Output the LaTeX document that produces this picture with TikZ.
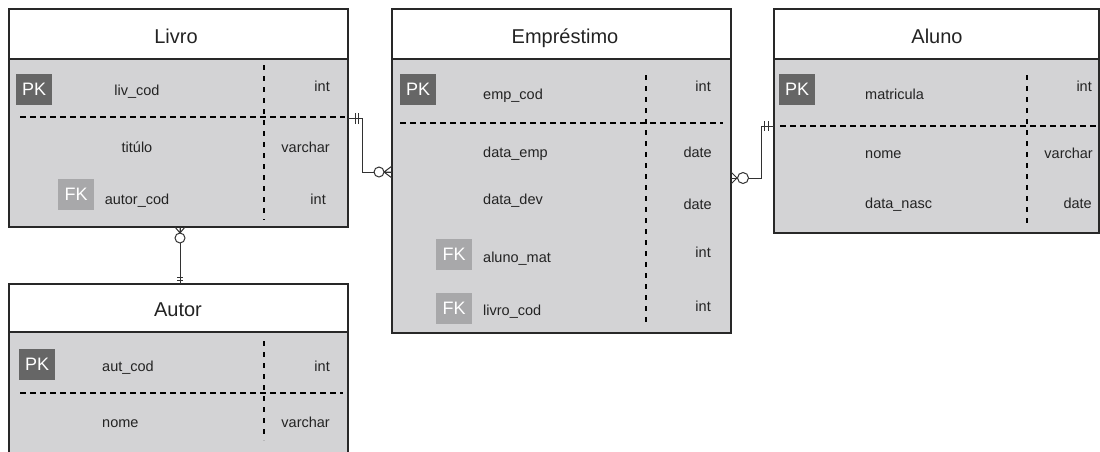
\documentclass[tikz,border=0pt]{standalone}
\usepackage{fontspec}
\setmainfont{Liberation Sans}
\definecolor{bodyc}{RGB}{211,211,213}
\definecolor{pkc}{RGB}{102,102,102}
\definecolor{fkc}{RGB}{168,168,170}
\definecolor{bordc}{RGB}{40,40,40}
\definecolor{txtc}{RGB}{35,35,35}
\definecolor{connc}{RGB}{50,50,50}
\begin{document}
\begin{tikzpicture}[x=1pt,y=-1pt,
  ent/.style={draw=bordc, line width=2pt, fill=bodyc, anchor=north west, inner sep=0, outer sep=0},
  head/.style={draw=bordc, line width=2pt, fill=white, anchor=north west, inner sep=0, outer sep=0},
  ttl/.style={font=\fontsize{20}{24}\selectfont, text=txtc, anchor=base, inner sep=0},
  fld/.style={font=\fontsize{14.5}{17}\selectfont, text=txtc, inner sep=0},
  pk/.style={fill=pkc, text=white, font=\fontsize{18}{20}\selectfont, minimum width=36pt, minimum height=31pt, anchor=north west, inner sep=0},
  fk/.style={pk, fill=fkc},
  dh/.style={line width=1.5pt, dash pattern=on 6pt off 4pt, draw=black},
  dv/.style={line width=1.5pt, dash pattern=on 5pt off 6pt, draw=black},
  conn/.style={draw=connc, line width=1pt},
  mk/.style={draw=connc, line width=1pt},
]
\useasboundingbox (0,0) rectangle (1100,451);
\clip (0,0) rectangle (1100,451);

% ---------- Livro ----------
\node[ent, minimum width=339pt, minimum height=218pt] (livro) at (9,9) {};
\node[head, minimum width=339pt, minimum height=50pt] (livroH) at (9,9) {};
\node[ttl] (livroT) at (176,43) {Livro};
\node[pk] (lvpk) at (16,74) {PK};
\node[fk] (lvfk) at (58,179) {FK};
\node[fld,anchor=base] (lv1) at (137,95) {liv\_cod};
\node[fld,anchor=base east] (lv1t) at (330,91) {int};
\node[fld,anchor=base] (lv2) at (137,152) {titúlo};
\node[fld,anchor=base east] (lv2t) at (330,152) {varchar};
\node[fld,anchor=base] (lv3) at (137,204) {autor\_cod};
\node[fld,anchor=base east] (lv3t) at (326,204) {int};
\draw[dh] (20,117) -- (345,117);
\draw[dv] (264,65) -- (264,220);

% ---------- Emprestimo ----------
\node[ent, minimum width=339pt, minimum height=324pt] (emp) at (392,9) {};
\node[head, minimum width=339pt, minimum height=50pt] (empH) at (392,9) {};
\node[ttl] (empT) at (565,43) {Empréstimo};
\node[pk] (empk) at (400,74) {PK};
\node[fk] (emfk1) at (436,239) {FK};
\node[fk] (emfk2) at (436,293) {FK};
\node[fld,anchor=base west] (em1) at (483,99) {emp\_cod};
\node[fld,anchor=base east] (em1t) at (711,91) {int};
\node[fld,anchor=base west] (em2) at (483,157) {data\_emp};
\node[fld,anchor=base east] (em2t) at (712,157) {date};
\node[fld,anchor=base west] (em3) at (483,204) {data\_dev};
\node[fld,anchor=base east] (em3t) at (712,209) {date};
\node[fld,anchor=base west] (em4) at (483,262) {aluno\_mat};
\node[fld,anchor=base east] (em4t) at (711,257) {int};
\node[fld,anchor=base west] (em5) at (483,315) {livro\_cod};
\node[fld,anchor=base east] (em5t) at (711,311) {int};
\draw[dh] (400,123) -- (723,123);
\draw[dv] (646,75) -- (646,323);

% ---------- Aluno ----------
\node[ent, minimum width=324.5pt, minimum height=224pt] (aluno) at (774,9) {};
\node[head, minimum width=324.5pt, minimum height=50pt] (alunoH) at (774,9) {};
\node[ttl] (alunoT) at (937,43) {Aluno};
\node[pk] (alpk) at (779,74) {PK};
\node[fld,anchor=base west] (al1) at (865,99) {matricula};
\node[fld,anchor=base east] (al1t) at (1092,91) {int};
\node[fld,anchor=base west] (al2) at (865,158) {nome};
\node[fld,anchor=base east] (al2t) at (1093,158) {varchar};
\node[fld,anchor=base west] (al3) at (865,208) {data\_nasc};
\node[fld,anchor=base east] (al3t) at (1092,208) {date};
\draw[dh] (780,126) -- (1096,126);
\draw[dv] (1027,75) -- (1027,228);

% ---------- Autor ----------
\node[ent, minimum width=339pt, minimum height=200pt] (autor) at (9,284) {};
\node[head, minimum width=339pt, minimum height=48pt] (autorH) at (9,284) {};
\node[ttl] (autorT) at (178,316) {Autor};
\node[pk] (aupk) at (19,349) {PK};
\node[fld,anchor=base west] (au1) at (102,371) {aut\_cod};
\node[fld,anchor=base east] (au1t) at (330,371) {int};
\node[fld,anchor=base west] (au2) at (102,427) {nome};
\node[fld,anchor=base east] (au2t) at (330,427) {varchar};
\draw[dh] (20,393) -- (343,393);
\draw[dv] (264,341) -- (264,440);

% ---------- Livro -> Emprestimo ----------
\coordinate (c1s) at (livro.east |- 0,118);
\coordinate (c1e) at (emp.west |- 0,172);
\draw[conn] (c1s) -- ++(14,0) |- (c1e);
\draw[mk] (355,113) -- (355,124) (358,113) -- (358,124);
\draw[mk] (392,166) -- (384,172) -- (392,178) (384,172) -- (392,172);
\draw[mk, fill=white] (379,172) circle (5pt);

% ---------- Emprestimo -> Aluno ----------
\coordinate (c2s) at (emp.east |- 0,178);
\coordinate (c2e) at (aluno.west |- 0,126);
\draw[conn] (c2s) -- ++(30,0) |- (c2e);
\draw[mk] (731,172) -- (737,178) -- (731,184);
\draw[mk, fill=white] (743,178) circle (5.5pt);
\draw[mk] (764,121) -- (764,131) (768,121) -- (768,131);

% ---------- Livro -> Autor ----------
\coordinate (c3s) at (livro.south -| 180,0);
\coordinate (c3e) at (autor.north -| 180,0);
\draw[conn] (c3s) -- (c3e);
\draw[mk] (175,227) -- (180,233) -- (185,227) (180,227) -- (180,233);
\draw[mk, fill=white] (180,238) circle (5pt);
\draw[mk] (177,277) -- (183,277) (177,280) -- (183,280);
\end{tikzpicture}
\end{document}
